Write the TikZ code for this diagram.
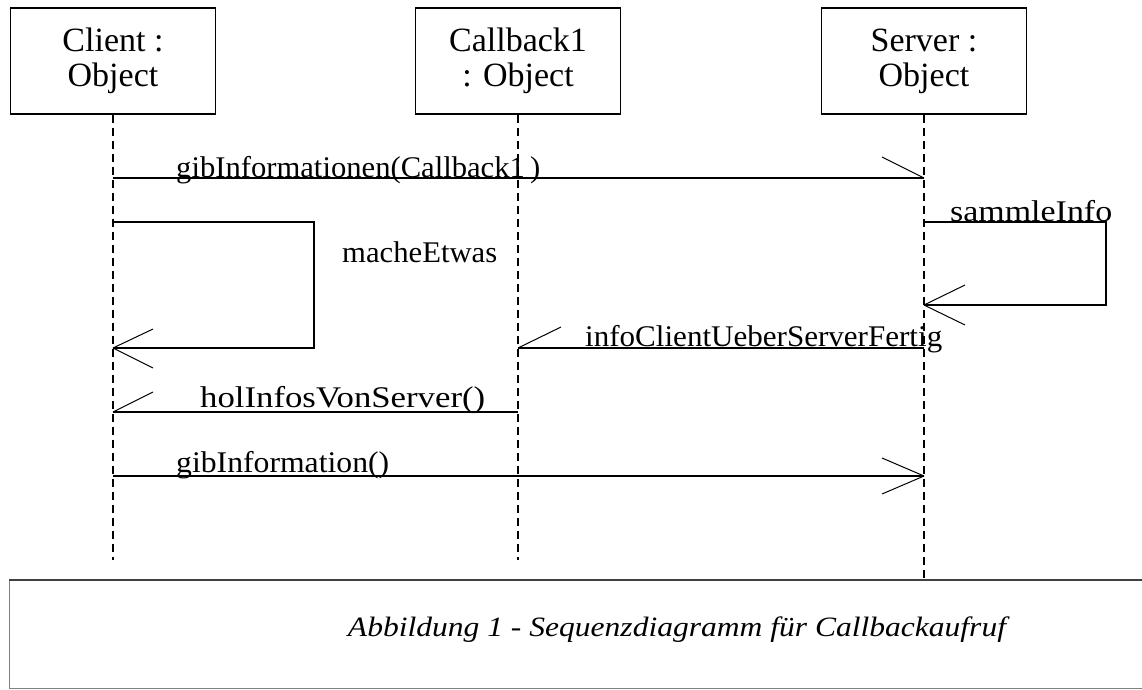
\documentclass[tikz,border=0pt]{standalone}
\usepackage{fontspec}
\setmainfont{Liberation Serif}
\usepackage{graphicx}
\newcommand{\wlbl}[2]{\resizebox{#1pt}{\height}{#2}}
\begin{document}
\begin{tikzpicture}[x=1pt,y=-1pt,
  obj/.style={draw, line width=1.5pt, minimum width=205pt, minimum height=106pt, inner sep=0pt, align=center, font=\fontsize{34}{35}\selectfont},
  life/.style={dash pattern=on 8pt off 5pt, line width=1.2pt},
  msg/.style={line width=1.5pt},
  barb/.style={line width=1pt},
  lbl/.style={anchor=base west, inner sep=0pt, font=\fontsize{30}{30}\selectfont}]
\useasboundingbox (0,0) rectangle (1142,689);
% objects
\node[obj] (client) at (113,61) {Client :\\Object};
\node[obj] (callback) at (518,61) {Callback1\\: Object};
\node[obj] (server) at (924,61) {Server :\\Object};
% lifelines
\coordinate (clientEnd) at (113,560);
\coordinate (callbackEnd) at (518,560);
\coordinate (serverEnd) at (924,580);
\draw[life] (client.south) -- (clientEnd);
\draw[life] (callback.south) -- (callbackEnd);
\draw[life] (server.south) -- (serverEnd);
% message 1
\coordinate (m1a) at (113,178);
\coordinate (m1b) at (924,178);
\draw[msg] (m1a) -- (m1b);
\draw[barb] (m1b) -- ++(-42,-21);
\node[lbl] (l1) at (176,177) {\wlbl{364}{gibInformationen(Callback1\,)}};
% self call macheEtwas
\coordinate (s1a) at (113,222);
\coordinate (s1b) at (113,348);
\draw[msg] (s1a) -- ++(201,0) |- (s1b);
\draw[barb] (s1b) -- ++(40,-19);
\draw[barb] (s1b) -- ++(40,20);
\node[lbl] (l2) at (342,262) {\wlbl{155}{macheEtwas}};
% self call sammleInfo
\coordinate (s2a) at (924,222);
\coordinate (s2b) at (924,305);
\draw[msg] (s2a) -- ++(182,0) |- (s2b);
\draw[barb] (s2b) -- ++(41,-20);
\draw[barb] (s2b) -- ++(41,20);
\node[lbl] (l3) at (950,221) {\wlbl{162}{sammleInfo}};
% message 4
\coordinate (m4a) at (924,348);
\coordinate (m4b) at (518,348);
\draw[msg] (m4a) -- (m4b);
\draw[barb] (m4b) -- ++(43,-21);
\node[lbl] (l4) at (585,346) {\wlbl{357}{infoClientUeberServerFertig}};
% message 5
\coordinate (m5a) at (518,412);
\coordinate (m5b) at (113,412);
\draw[msg] (m5a) -- (m5b);
\draw[barb] (m5b) -- ++(40,-20);
\node[lbl] (l5) at (200,407) {\wlbl{285}{holInfosVonServer()}};
% message 6
\coordinate (m6a) at (113,476);
\coordinate (m6b) at (924,476);
\draw[msg] (m6a) -- (m6b);
\draw[barb] (m6b) -- ++(-42,-18);
\draw[barb] (m6b) -- ++(-42,18);
\node[lbl] (l6) at (176,472) {\wlbl{213}{gibInformation()}};
% caption box
\draw[gray, line width=1pt] (1142,688) -- (9,688) -- (9,580);
\draw[black!75, line width=2pt] (9,580) -- (1142,580);
\node[anchor=base, inner sep=0pt, font=\fontsize{28}{28}\selectfont\itshape] (caption) at (677,636) {\wlbl{658}{Abbildung 1 - Sequenzdiagramm für Callbackaufruf}};
\end{tikzpicture}
\end{document}
